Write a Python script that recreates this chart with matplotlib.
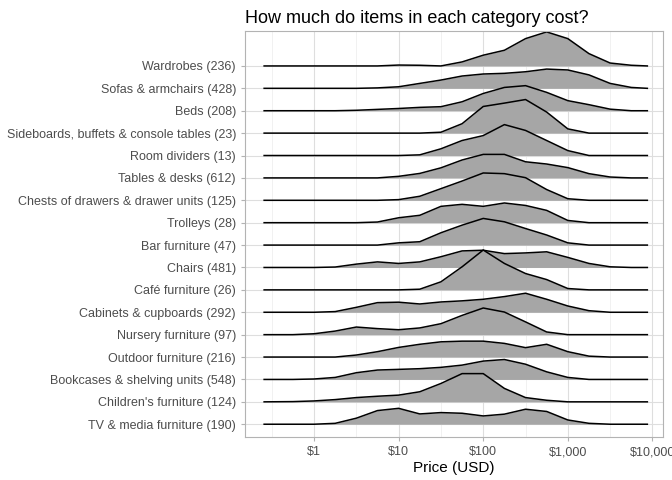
import numpy as np
import matplotlib.pyplot as plt

plt.rcParams['font.family'] = ['Liberation Sans', 'DejaVu Sans']

# knots in log10(price)
log_knots = [-0.59, -0.25, 0, 0.25, 0.5, 0.75, 1, 1.25, 1.5, 1.75, 2, 2.25,
             2.5, 2.75, 3, 3.25, 3.5, 3.75, 3.94]

categories = [
    "Wardrobes (236)", "Sofas & armchairs (428)", "Beds (208)",
    "Sideboards, buffets & console tables (23)", "Room dividers (13)",
    "Tables & desks (612)", "Chests of drawers & drawer units (125)",
    "Trolleys (28)", "Bar furniture (47)", "Chairs (481)", "Café furniture (26)",
    "Cabinets & cupboards (292)", "Nursery furniture (97)",
    "Outdoor furniture (216)", "Bookcases & shelving units (548)",
    "Children's furniture (124)", "TV & media furniture (190)",
]

heights = [
    [0, 0, 0, 0, 0, 0, .04, .03, 0, .18, .48, .70, 1.22, 1.52, 1.22, .55, .13, .03, 0],
    [0, 0, 0, 0, 0, .02, .07, .22, .37, .55, .64, .67, .74, .86, .82, .6, .22, .04, 0],
    [0, 0, 0, 0, .02, .06, .10, .15, .18, .40, .77, 1.04, 1.12, .82, .45, .27, .07, 0, 0],
    [0, 0, 0, 0, 0, 0, 0, 0, .04, .42, 1.19, 1.34, 1.5, .94, .19, 0, 0, 0, 0],
    [0, 0, 0, 0, 0, 0, 0, .03, .3, .67, .89, 1.38, 1.12, .67, .22, 0, 0, 0, 0],
    [0, 0, 0, 0, 0, 0, .07, .2, .45, .8, 1.05, 1.05, .72, .62, .46, .19, .04, 0, 0],
    [0, 0, 0, 0, 0, 0, .03, .18, .52, .86, 1.22, 1.19, 1.01, .48, .07, 0, 0, 0, 0],
    [0, 0, 0, 0, 0, .03, .22, .33, .73, .82, .73, .88, .77, .55, .1, 0, 0, 0, 0],
    [0, 0, 0, 0, 0, 0, .1, .15, .55, .89, 1.19, 1.04, .74, .45, .1, 0, 0, 0, 0],
    [0, 0, 0, .02, .15, .25, .18, .25, .48, .74, .77, .62, .65, .7, .45, .18, .03, 0, 0],
    [0, 0, 0, 0, 0, 0, 0, .03, .36, 1.03, 1.78, 1.18, .73, .46, .06, 0, 0, 0, 0],
    [0, 0, 0, .03, .22, .43, .45, .37, .46, .51, .58, .7, .85, .58, .28, .07, 0, 0, 0],
    [0, 0, .04, .16, .34, .27, .22, .3, .49, .86, 1.19, 1.01, .57, .12, 0, 0, 0, 0, 0],
    [0, 0, 0, 0, .09, .24, .43, .57, .68, .71, .71, .61, .42, .57, .24, .04, 0, 0, 0],
    [0, 0, .02, .09, .3, .42, .45, .48, .54, .64, .82, .89, .68, .34, .09, 0, 0, 0, 0],
    [0, .01, .04, .1, .19, .25, .3, .45, .82, 1.26, 1.26, .6, .19, .07, 0, 0, 0, 0, 0],
    [0, 0, 0, .04, .27, .61, .71, .46, .52, .49, .37, .45, .67, .57, .19, .04, 0, 0, 0],
]

x_ticks = [1, 10, 100, 1000, 10000]
x_ticklabels = ["$1", "$10", "$100", "$1,000", "$10,000"]

fig = plt.figure(figsize=(6.72, 4.8), dpi=100)
ax = fig.add_axes([0.3646, 0.0896, 0.622, 0.8458])

x = 10 ** np.array(log_knots)
n = len(categories)
for i, (cat, h) in enumerate(zip(categories, heights)):
    base = n - 1 - i
    y = base + np.array(h)
    ax.fill_between(x, base, y, color="#A6A6A6", lw=0, zorder=2 + i)
    ax.plot(x, y, color="black", lw=1.1, zorder=2 + i)

ax.set_xscale("log")
ax.set_xlim(10 ** -0.816, 10 ** 4.125)
ax.set_ylim(-0.57, 17.56)
ax.set_xticks(x_ticks)
ax.set_xticklabels(x_ticklabels)
ax.set_xticks([10 ** (k + 0.5) for k in range(-1, 4)], minor=True)
ax.set_yticks(range(n))
ax.set_yticklabels(categories[::-1])

ax.grid(True, which="major", color="#DEDEDE", lw=0.8, zorder=0)
ax.grid(True, which="minor", axis="x", color="#EFEFEF", lw=0.6, zorder=0)
ax.set_axisbelow(True)
for s in ax.spines.values():
    s.set_color("#B3B3B3")
    s.set_linewidth(0.8)
ax.tick_params(which="major", color="#B3B3B3", labelcolor="#4D4D4D", labelsize=9, length=3)
ax.tick_params(which="minor", length=0)

ax.set_xlabel("Price (USD)", fontsize=11, labelpad=2)
ax.set_title("How much do items in each category cost?", loc="left", fontsize=13, pad=6)

fig.savefig("out.png", dpi=100)
